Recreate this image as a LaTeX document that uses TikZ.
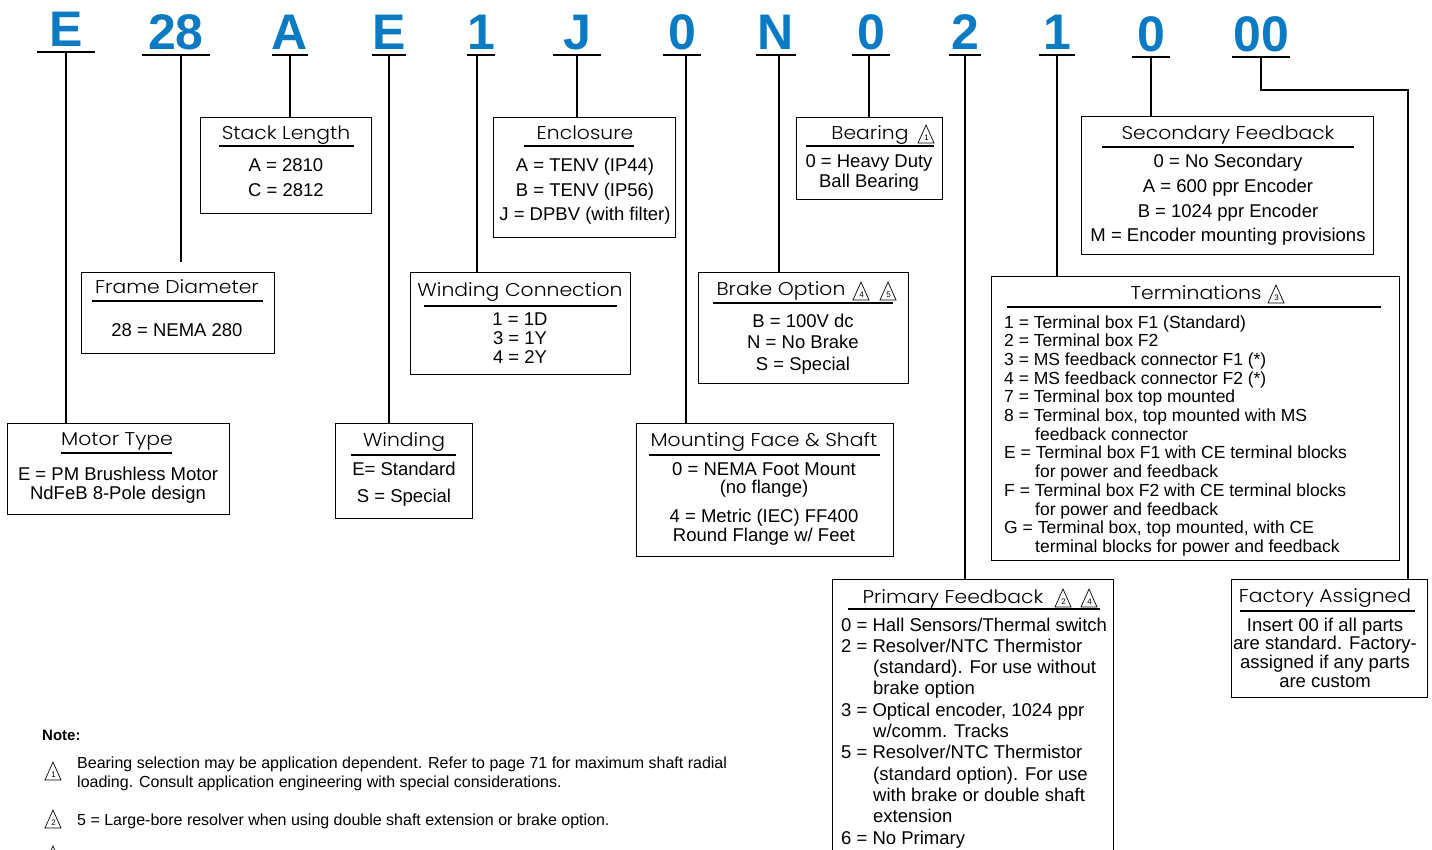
\documentclass[tikz,border=0pt]{standalone}
\usepackage{fontspec}
\setmainfont{Liberation Sans}
\newfontfamily\titlefont[FakeStretch=1.1,UprightFont=* Light]{Poppins}
\usetikzlibrary{positioning,shapes.geometric}
\definecolor{codeblue}{HTML}{0A7AC2}

\tikzset{
  code/.style={font=\bfseries\fontsize{50}{50}\selectfont, text=codeblue, anchor=south,
    inner xsep=0pt, inner ysep=5pt, text depth=0pt, minimum width=#1,
    append after command={(\tikzlastnode.south west) edge[line width=1.4pt] (\tikzlastnode.south east)}},
  box/.style={draw, line width=1.4pt, anchor=north west, inner sep=0pt},
  ttl/.style={font=\titlefont\fontsize{18.5}{18.5}\selectfont, anchor=base, inner sep=0pt},
  body/.style={font=\fontsize{18.5}{#1}\selectfont, anchor=base, inner sep=0pt},
  rule/.style={line width=1.4pt},
  drop/.style={line width=1.3pt},
  warn/.pic={
    \draw[line width=0.7pt] (-8,9) -- (0,-9) -- (8,9) -- cycle;
    \node[font=\fontsize{8}{8}\selectfont, inner sep=0pt] (-num) at (0.6,4) {#1};
  },
  note/.style={font=\fontsize{16}{19}\selectfont, anchor=base west, inner sep=0pt}
}

\begin{document}
\begin{tikzpicture}[x=1pt,y=-1pt]
\useasboundingbox (0,0) rectangle (1432,850);
\clip (0,0) rectangle (1432,850);

% model number
\path (66,52) node[code=58] (cE) {E}
      (176,55) node[code=67] (c28) {28}
      (290,55) node[code=35] (cA) {A}
      (389,55) node[code=32] (cE2) {E}
      (481,55) node[code=25] (c1) {1}
      (577,55) node[code=47] (cJ) {J}
      (682,55) node[code=38] (c0) {0}
      (776,55) node[code=40] (cN) {N}
      (871,55) node[code=37] (c02) {0}
      (965,55) node[code=31] (c2) {2}
      (1057,55) node[code=35] (c12) {1}
      (1151,57) node[code=37] (c03) {0}
      (1261,57) node[code=58] (c00) {00};

% Motor type
\path (7,423) node[box, minimum width=222, minimum height=91] (mtype) {}
  +(110,22) node[ttl] (mtypeT) {Motor Type}
  +(54,30) coordinate (mtypeL) +(165,30) coordinate (mtypeR)
  +(111,57) node[body=19] (mtypeB) {\begin{tabular}[t]{@{}c@{}}E = PM Brushless Motor\\NdFeB 8-Pole design\end{tabular}};
\draw[rule] (mtypeL) -- (mtypeR);

% Frame diameter
\path (81,272) node[box, minimum width=193, minimum height=81] (fdia) {}
  +(96,22) node[ttl] (fdiaT) {Frame Diameter}
  +(11,29) coordinate (fdiaL) +(182,29) coordinate (fdiaR)
  +(96,64) node[body=19] (fdiaB) {28 = NEMA 280};
\draw[rule] (fdiaL) -- (fdiaR);

% Stack length
\path (200,117) node[box, minimum width=171, minimum height=96] (stack) {}
  +(86,23) node[ttl] (stackT) {Stack Length}
  +(19,29) coordinate (stackL) +(154,29) coordinate (stackR)
  +(86,55) node[body=25] (stackB) {\begin{tabular}[t]{@{}c@{}}A = 2810\\C = 2812\end{tabular}};
\draw[rule] (stackL) -- (stackR);

% Winding
\path (335,423) node[box, minimum width=137, minimum height=95] (wind) {}
  +(69,23) node[ttl] (windT) {Winding}
  +(16,32) coordinate (windL) +(121,32) coordinate (windR)
  +(69,52) node[body=27] (windB) {\begin{tabular}[t]{@{}c@{}}E= Standard\\S = Special\end{tabular}};
\draw[rule] (windL) -- (windR);

% Winding connection
\path (410,272) node[box, minimum width=220, minimum height=102] (wconn) {}
  +(110,25) node[ttl] (wconnT) {Winding Connection}
  +(14,34) coordinate (wconnL) +(207,34) coordinate (wconnR)
  +(110,54) node[body=18.5] (wconnB) {\begin{tabular}[t]{@{}c@{}}1 = 1D\\3 = 1Y\\4 = 2Y\end{tabular}};
\draw[rule] (wconnL) -- (wconnR);

% Enclosure
\path (493,117) node[box, minimum width=182, minimum height=120] (encl) {}
  +(92,23) node[ttl] (enclT) {Enclosure}
  +(31,29) coordinate (enclL) +(141,29) coordinate (enclR)
  +(92,55) node[body=24.5] (enclB) {\begin{tabular}[t]{@{}c@{}}A = TENV (IP44)\\B = TENV (IP56)\\J = DPBV (with filter)\end{tabular}};
\draw[rule] (enclL) -- (enclR);

% Mounting face
\path (636,423) node[box, minimum width=257, minimum height=133] (mount) {}
  +(128,23) node[ttl] (mountT) {Mounting Face \& Shaft}
  +(13,32) coordinate (mountL) +(244,32) coordinate (mountR)
  +(128,52) node[body=18] (mountB) {\begin{tabular}[t]{@{}c@{}}0 = NEMA Foot Mount\\(no flange)\\[10pt]4 = Metric (IEC) FF400\\Round Flange w/ Feet\end{tabular}};
\draw[rule] (mountL) -- (mountR);

% Brake option
\path (698,272) node[box, minimum width=210, minimum height=111] (brake) {}
  +(83,24) node[ttl] (brakeT) {Brake Option}
  +(163,19) pic (brakeW4) {warn=4}
  +(190,19) pic (brakeW5) {warn=5}
  +(15,31) coordinate (brakeL) +(195,31) coordinate (brakeR)
  +(105,55) node[body=21.5] (brakeB) {\begin{tabular}[t]{@{}c@{}}B = 100V dc\\N = No Brake\\S = Special\end{tabular}};
\draw[rule] (brakeL) -- (brakeR);

% Bearing
\path (796,117) node[box, minimum width=146, minimum height=82] (bear) {}
  +(74,23) node[ttl] (bearT) {Bearing}
  +(130,17) pic (bearW1) {warn=1}
  +(10,29) coordinate (bearL) +(138,29) coordinate (bearR)
  +(73,51) node[body=19] (bearB) {\begin{tabular}[t]{@{}c@{}}0 = Heavy Duty\\Ball Bearing\end{tabular}};
\draw[rule] (bearL) -- (bearR);

% Primary feedback
\path (832,579) node[box, minimum width=281, minimum height=300] (prim) {}
  +(121,24) node[ttl] (primT) {Primary Feedback}
  +(231,19) pic (primW2) {warn=2}
  +(257,19) pic (primW4) {warn=4}
  +(16,30) coordinate (primL) +(268,30) coordinate (primR)
  +(9,52) node[body=21.3, anchor=base west] (primB) {\begin{tabular}[t]{@{}l@{}}
    0 = Hall Sensors/Thermal switch\\
    2 = Resolver/NTC Thermistor\\
    \hspace*{32pt}(standard). For use without\\
    \hspace*{32pt}brake option\\
    3 = Optical encoder, 1024 ppr\\
    \hspace*{32pt}w/comm. Tracks\\
    5 = Resolver/NTC Thermistor\\
    \hspace*{32pt}(standard option). For use\\
    \hspace*{32pt}with brake or double shaft\\
    \hspace*{32pt}extension\\
    6 = No Primary
  \end{tabular}};
\draw[rule] (primL) -- (primR);

% Terminations
\path (991,276) node[box, minimum width=408, minimum height=284] (term) {}
  +(205,24) node[ttl] (termT) {Terminations}
  +(285,18) pic (termW3) {warn=3}
  +(16,31) coordinate (termL) +(390,31) coordinate (termR)
  +(13,52) node[body=18.7, font=\fontsize{17.5}{18.7}\selectfont, anchor=base west] (termB) {\begin{tabular}[t]{@{}l@{}}
    1 = Terminal box F1 (Standard)\\
    2 = Terminal box F2\\
    3 = MS feedback connector F1 (*)\\
    4 = MS feedback connector F2 (*)\\
    7 = Terminal box top mounted\\
    8 = Terminal box, top mounted with MS\\
    \hspace*{31pt}feedback connector\\
    E = Terminal box F1 with CE terminal blocks\\
    \hspace*{31pt}for power and feedback\\
    F = Terminal box F2 with CE terminal blocks\\
    \hspace*{31pt}for power and feedback\\
    G = Terminal box, top mounted, with CE\\
    \hspace*{31pt}terminal blocks for power and feedback
  \end{tabular}};
\draw[rule] (termL) -- (termR);

% Secondary feedback
\path (1081,116) node[box, minimum width=292, minimum height=138] (sec) {}
  +(147,24) node[ttl] (secT) {Secondary Feedback}
  +(21,31) coordinate (secL) +(273,31) coordinate (secR)
  +(147,52) node[body=24.6] (secB) {\begin{tabular}[t]{@{}c@{}}0 = No Secondary\\A = 600 ppr Encoder\\B = 1024 ppr Encoder\\M = Encoder mounting provisions\end{tabular}};
\draw[rule] (secL) -- (secR);

% Factory assigned
\path (1231,579) node[box, minimum width=196, minimum height=118] (fact) {}
  +(94,23) node[ttl] (factT) {Factory Assigned}
  +(9,32) coordinate (factL) +(184,32) coordinate (factR)
  +(94,52) node[body=18.5] (factB) {\begin{tabular}[t]{@{}c@{}}Insert 00 if all parts\\are standard. Factory-\\assigned if any parts\\are custom\end{tabular}};
\draw[rule] (factL) -- (factR);

% drops from the model number
\coordinate (c28end) at (181,262);
\coordinate (c00turn) at (1408,90);
\draw[drop] (cE.south) -- (cE.south |- mtype.north);
\draw[drop] ([xshift=5]c28.south) -- (c28end);
\draw[drop] (cA.south) -- (cA.south |- stack.north);
\draw[drop] (cE2.south) -- (cE2.south |- wind.north);
\draw[drop] ([xshift=-4]c1.south) -- ([xshift=-4]c1.south |- wconn.north);
\draw[drop] (cJ.south) -- (cJ.south |- encl.north);
\draw[drop] ([xshift=4]c0.south) -- ([xshift=4]c0.south |- mount.north);
\draw[drop] ([xshift=3]cN.south) -- ([xshift=3]cN.south |- brake.north);
\draw[drop] ([xshift=-2]c02.south) -- ([xshift=-2]c02.south |- bear.north);
\draw[drop] (c2.south) -- (c2.south |- prim.north);
\draw[drop] (c12.south) -- (c12.south |- term.north);
\draw[drop] (c03.south) -- (c03.south |- sec.north);
\draw[drop] (c00.south) |- (c00turn) -- (c00turn |- fact.north);

% notes
\node[note] (noteHd) at (42,740) {\bfseries\fontsize{15}{15}\selectfont Note:};
\pic (noteW1) at (53,771) {warn=1};
\node[note] (note1) at (77,768) {\begin{tabular}[t]{@{}l@{}}Bearing selection may be application dependent. Refer to page 71 for maximum shaft radial\\loading. Consult application engineering with special considerations.\end{tabular}};
\pic (noteW2) at (53,819) {warn=2};
\node[note] (note2) at (77,825) {5 = Large-bore resolver when using double shaft extension or brake option.};
\pic (noteW3) at (53,855) {warn=};

\end{tikzpicture}
\end{document}
